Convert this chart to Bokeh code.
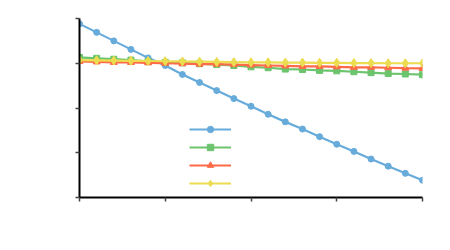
from bokeh.plotting import figure
from bokeh.models import Range1d, FixedTicker, CustomJSTickFormatter, Legend, LegendItem
from bokeh.core.properties import value
from bokeh.embed import file_html
from bokeh.resources import INLINE

x_index = list(range(21))
series_blue = [3.88, 3.69, 3.50, 3.31, 3.12, 2.95, 2.75, 2.57, 2.39, 2.21, 2.04,
               1.86, 1.69, 1.53, 1.36, 1.19, 1.03, 0.86, 0.70, 0.54, 0.385]
series_green = [3.13, 3.11, 3.09, 3.07, 3.04, 3.02, 3.01, 2.99, 2.97, 2.95, 2.92,
                2.90, 2.87, 2.86, 2.84, 2.83, 2.81, 2.79, 2.77, 2.76, 2.745]
series_red = [3.04, 3.03, 3.02, 3.02, 3.01, 3.00, 2.99, 2.98, 2.98, 2.97, 2.96,
              2.95, 2.94, 2.93, 2.93, 2.92, 2.91, 2.91, 2.90, 2.89, 2.885]
series_yellow = [3.07, 3.065, 3.06, 3.055, 3.05, 3.045, 3.04, 3.035, 3.03, 3.025, 3.02,
                 3.02, 3.015, 3.015, 3.01, 3.01, 3.005, 3.005, 3.0, 3.0, 3.0]
x_ticks = [0, 5, 10, 15, 20]
y_ticks = [0, 1, 2, 3, 4]

p = figure(width=442, height=242, output_backend="svg", toolbar_location=None,
           x_range=Range1d(0, 20), y_range=Range1d(0, 4),
           min_border_left=79, min_border_right=20, min_border_top=18, min_border_bottom=45)
p.outline_line_color = None
p.xgrid.visible = False
p.ygrid.visible = False
p.background_fill_color = "white"

for ax, ticks in ((p.xaxis[0], x_ticks), (p.yaxis[0], y_ticks)):
    ax.ticker = FixedTicker(ticks=ticks, minor_ticks=[])
    ax.formatter = CustomJSTickFormatter(code="return ''")
    ax.axis_line_color = "black"
    ax.axis_line_width = 2
    ax.major_tick_line_color = "#444444"
    ax.major_tick_line_width = 1.5
    ax.major_tick_in = 0
    ax.major_tick_out = 4
    ax.minor_tick_line_color = None
    ax.major_label_text_font_size = "1px"

specs = [
    (series_blue, "#67abdb", "circle", 6),
    (series_green, "#6cc46c", "square", 6),
    (series_red, "#ff6b48", "triangle", 7),
    (series_yellow, "#ecdc50", "diamond", 9),
]
items = []
for ys, color, marker, size in specs:
    ln = p.line(x_index, ys, line_color=color, line_width=2.2)
    sc = p.scatter(x_index, ys, marker=marker, size=size, fill_color=color, line_color=color)
    items.append(LegendItem(label=value(" "), renderers=[ln, sc]))

legend = Legend(items=items, location=(110, 6), padding=0, margin=0,
                glyph_width=42, glyph_height=16, label_height=16, spacing=2,
                label_text_font_size="6px", label_width=10, label_standoff=2,
                border_line_alpha=0, background_fill_alpha=0)
p.add_layout(legend, "center")

open("out.html", "w").write(file_html(p, INLINE))
